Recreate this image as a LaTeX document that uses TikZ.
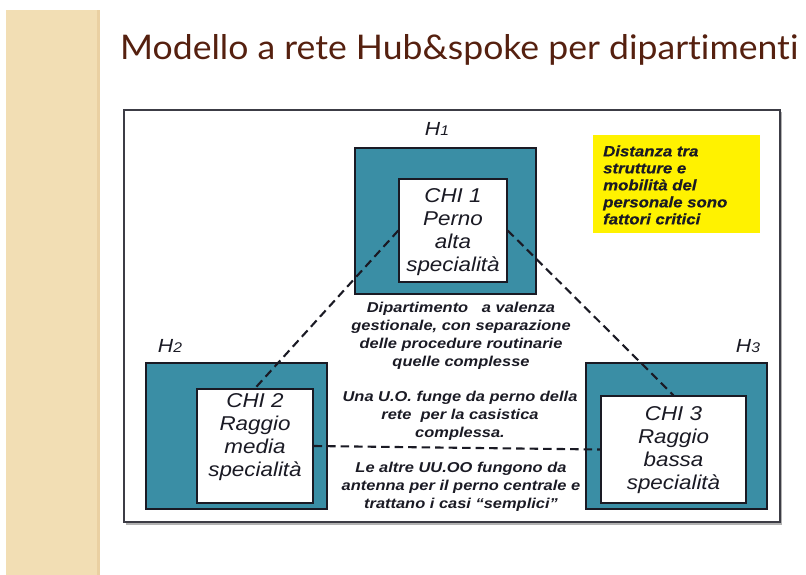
\documentclass[tikz,border=0pt]{standalone}
\usepackage{fontspec}
\usepackage{graphicx}
\newfontfamily\boxfont{Liberation Sans}[FakeStretch=1.12]
\newfontfamily\notefont{Liberation Sans}[FakeStretch=1.15]
\newfontfamily\yelfont{Liberation Sans}[FakeStretch=1.12, FakeBold=0.4]
\newfontfamily\titlefont{Lato}[Ligatures={NoCommon}]
\definecolor{teal1}{HTML}{3A8EA5}
\definecolor{beige1}{HTML}{F2DEB4}
\definecolor{brown1}{HTML}{55200F}
\definecolor{ink}{HTML}{1A1A24}
\tikzset{
  hubbox/.style={draw=ink, line width=1.4pt, fill=teal1, minimum width=181pt, minimum height=146pt, inner sep=0pt},
  chibox/.style={draw=ink, line width=1.4pt, fill=white, inner sep=0pt},
  chitext/.style={font=\boxfont\itshape\fontsize{20}{23}\selectfont, align=center, text=ink, inner sep=0pt},
  hlabel/.style={font=\boxfont\itshape\fontsize{19}{22}\selectfont, text=ink, inner sep=0pt, anchor=base},
  notetext/.style={font=\notefont\bfseries\itshape\fontsize{14.3}{18.2}\selectfont, align=center, text=ink, inner sep=0pt},
  link/.style={draw=ink, line width=2.1pt, dash pattern=on 8.5pt off 5pt}
}
\begin{document}
\begin{tikzpicture}[x=1pt,y=-1pt]
\useasboundingbox (0,0) rectangle (806,575);
% left strip
\fill[beige1] (6,10) rectangle (100,575);
\fill[beige1!85!brown] (97,10) rectangle (100,575);
% title
\node[anchor=base west, inner sep=0pt, text=brown1] (title) at (120,60)
  {\resizebox{678pt}{25pt}{\titlefont Modello a rete Hub\&spoke per dipartimenti}};
% frame
\draw[gray!60, line width=1.5pt] (126,524) -- (781.5,524) -- (781.5,112);
\draw[ink!85, line width=1.6pt] (124,110) rectangle (780,522);
% yellow note
\node[fill=yellow, minimum width=167pt, minimum height=98pt, inner sep=0pt] (note) at (676.5,184) {};
\node[anchor=west, align=left, inner sep=0pt, text=ink,
  font=\yelfont\bfseries\itshape\fontsize{15}{17}\selectfont] (notetxt) at (603,185)
  {Distanza tra\\strutture e\\mobilità del\\personale sono\\fattori critici};
% hub boxes
\node[hubbox] (h1box) at (445.5,221) {};
\node[hubbox] (h2box) at (236.5,436) {};
\node[hubbox] (h3box) at (676.5,436) {};
\node[chibox, minimum width=108pt, minimum height=103pt] (chi1) at (453,230.5) {};
\node[chibox, minimum width=116pt, minimum height=114pt] (chi2) at (255,446) {};
\node[chibox, minimum width=145pt, minimum height=107pt] (chi3) at (673.5,449.5) {};
\node[chitext] (t1) at (453,232) {CHI 1\\Perno\\alta\\specialità};
\node[chitext] (t2) at (255,437) {CHI 2\\Raggio\\media\\specialità};
\node[chitext] (t3) at (673.5,450) {CHI 3\\Raggio\\bassa\\specialità};
% hub labels
\node[hlabel] (l1) at (437,136) {H{\fontsize{14}{16}\selectfont 1}};
\node[hlabel] (l2) at (170,352) {H{\fontsize{14}{16}\selectfont 2}};
\node[hlabel] (l3) at (748,352) {H{\fontsize{14}{16}\selectfont 3}};
% links
\draw[link] (chi1.west) -- (chi2.north);
\draw[link] (chi1.east) -- (chi3.north);
\draw[link] (chi2.east) -- (chi3.west);
% central notes
\node[notetext] (c1) at (461,336) {Dipartimento \ \ a valenza\\gestionale, con separazione\\delle procedure routinarie\\quelle complesse};
\node[notetext] (c2) at (460,416) {Una U.O. funge da perno della\\rete \ per la casistica\\complessa.};
\node[notetext] (c3) at (461,487) {Le altre UU.OO fungono da\\antenna per il perno centrale e\\trattano i casi “semplici”};
\end{tikzpicture}
\end{document}
